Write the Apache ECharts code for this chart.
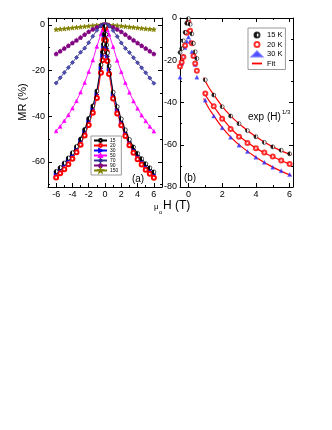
<!DOCTYPE html>
<html>
<head>
<meta charset="utf-8">
<script src="https://cdn.jsdelivr.net/npm/echarts@6/dist/echarts.min.js"></script>
<style>
html,body{margin:0;padding:0;background:#fff;}
#c{width:332px;height:430px;}
</style>
</head>
<body>
<div id="c"></div>
<script>
// ---------- Panel (a) data ----------
const fieldA = [-6,-5.5,-5,-4.5,-4,-3.5,-3,-2.5,-2,-1.5,-1,-0.5,-0.3,-0.2,-0.1,0,0.1,0.2,0.3,0.5,1,1.5,2,2.5,3,3.5,4,4.5,5,5.5,6];
const mr15a = [-64.2,-62.5,-60.5,-58.3,-56,-53.3,-50,-45.8,-41,-35.5,-29,-17.5,-12,-8.5,-4,-0.5,-4.2,-8.8,-12.3,-18,-29.5,-35.8,-41.2,-46,-50.2,-53.5,-56.3,-58.6,-60.8,-62.6,-64.4];
const mr20a = [-66.8,-65,-63.2,-61,-58.6,-55.8,-52.5,-48.5,-43.8,-38.5,-32,-21,-15.5,-11.5,-6.5,-1.5,-6.8,-11.8,-15.8,-21.5,-32.3,-38.8,-44,-48.7,-52.7,-56,-58.8,-61.2,-63.4,-65.2,-67];
const mr30a = [-65.2,-63.4,-61.4,-59.2,-57,-54.3,-51,-47,-42.3,-37,-30.5,-19,-13.5,-10,-5.5,-1,-5.8,-10.3,-13.8,-19.5,-30.8,-37.3,-42.5,-47.2,-51.2,-54.5,-57.2,-59.5,-61.6,-63.5,-65.4];
const mr50a = [-46.5,-44.5,-42,-39.5,-36.5,-33.3,-29.5,-25.3,-20.5,-15.5,-9.5,-4,-2.2,-1.4,-0.6,0,-0.6,-1.5,-2.3,-4.2,-9.6,-15.6,-20.6,-25.4,-29.6,-33.4,-36.6,-39.6,-42.1,-44.5,-46.6];
const mr70a = [-25.5,-23.2,-20.9,-18.7,-16.5,-14.3,-12,-10.2,-7.8,-5,-2.4,-0.6,-0.2,-0.1,0,0,0,-0.1,-0.2,-0.6,-2.5,-5.1,-7.9,-10.3,-12.1,-14.4,-16.6,-18.8,-21,-23.3,-25.6];
const mr90a = [-12.7,-11.5,-10.3,-9.1,-7.9,-6.7,-5.5,-4.2,-3,-1.9,-1,-0.3,-0.1,-0.05,0,0,0,-0.05,-0.1,-0.3,-1,-1.9,-3,-4.2,-5.5,-6.7,-7.9,-9.1,-10.3,-11.5,-12.7];
const mr150a = [-2,-1.85,-1.7,-1.5,-1.3,-1.1,-0.9,-0.7,-0.5,-0.3,-0.15,-0.05,-0.02,-0.01,0,0,0,-0.01,-0.02,-0.05,-0.15,-0.3,-0.5,-0.7,-0.9,-1.1,-1.3,-1.5,-1.7,-1.85,-2];
const legendA = ['15','20','30','50','70','90','150'];

// ---------- Panel (b) data ----------
const fieldB = [-0.5,-0.4,-0.3,-0.2,-0.1,0,0.1,0.2,0.3,0.4,0.5,1,1.5,2,2.5,3,3.5,4,4.5,5,5.5,6];
const mr15b = [-16.3,-14.5,-10.8,-6.8,-2.5,-0.3,-3,-7.5,-12,-16,-19.2,-29.3,-36.5,-42,-46.4,-50,-53.3,-56.2,-58.9,-61,-62.6,-64.3];
const mr20b = [-23,-21,-18.5,-13,-7,-2,-6,-12,-18,-21.5,-25,-35.7,-41.8,-47.7,-52.5,-56.2,-59.2,-61.6,-63.7,-65.6,-67.5,-69.1];
const mr30b = [-28,-21.5,-18,-14,-11,-9,-11,-16,-18,-22,-28,-38.9,-46.4,-52,-56.5,-60.2,-63.2,-65.9,-68.3,-70.7,-72.3,-74.1];
const fitField = [0.9,1.2,1.5,2,2.5,3,4,5,6.1];
const fit15 = [-28.2,-32.8,-36.3,-41.8,-46.3,-50,-56.2,-61,-64.8];
const fit20 = [-34.9,-38.9,-41.9,-47.4,-52.1,-55.9,-61.6,-65.7,-69.5];
const fit30 = [-38.1,-42.6,-46.2,-51.8,-56.3,-60,-65.9,-70.6,-74.6];
const legendB = ['15 K','20 K','30 K','Fit'];

// ---------- tick values ----------
const xMajorA = [-6,-4,-2,0,2,4,6];
const xMinorA = [-7,-5,-3,-1,1,3,5,7];
const yMajorA = [-60,-40,-20,0];
const yMinorA = [-70,-50,-30,-10];
const xMajorB = [0,2,4,6];
const xMinorB = [1,3,5];
const yMajorB = [-80,-60,-40,-20,0];
const yMinorB = [-70,-50,-30,-10];

const FONT = 'Liberation Sans, Arial, sans-serif';
const pair = (xs, ys) => xs.map((x, i) => [x, ys[i]]);

function axis(gridIndex, min, max, position, vals, len, showLine, showLabel) {
  return {
    type: 'value', gridIndex, min, max, position,
    axisLine: {show: showLine, onZero: false, lineStyle: {color: '#000', width: 1}},
    axisTick: {show: true, inside: true, length: len, customValues: vals, lineStyle: {color: '#000', width: 1}},
    axisLabel: {show: showLabel, customValues: vals, fontSize: 9, color: '#000', margin: 3, fontFamily: FONT},
    splitLine: {show: false}
  };
}

const xAxes = [
  axis(0, -7, 7, 'bottom', xMajorA, 4, true, true),
  axis(0, -7, 7, 'bottom', xMinorA, 2, false, false),
  axis(0, -7, 7, 'top', xMajorA, 4, true, false),
  axis(0, -7, 7, 'top', xMinorA, 2, false, false),
  axis(1, -0.5, 6.2, 'bottom', xMajorB, 4, true, true),
  axis(1, -0.5, 6.2, 'bottom', xMinorB, 2, false, false),
  axis(1, -0.5, 6.2, 'top', xMajorB, 4, true, false),
  axis(1, -0.5, 6.2, 'top', xMinorB, 2, false, false)
];
const yAxes = [
  axis(0, -71, 3, 'left', yMajorA, 4, true, true),
  axis(0, -71, 3, 'left', yMinorA, 2, false, false),
  axis(0, -71, 3, 'right', yMajorA, 4, true, false),
  axis(0, -71, 3, 'right', yMinorA, 2, false, false),
  axis(1, -80, 0, 'left', yMajorB, 4, true, true),
  axis(1, -80, 0, 'left', yMinorB, 2, false, false),
  axis(1, -80, 0, 'right', yMajorB, 4, true, false),
  axis(1, -80, 0, 'right', yMinorB, 2, false, false)
];

const halfFill = (c) => new echarts.graphic.LinearGradient(0, 0, 1, 0, [
  {offset: 0, color: c}, {offset: 0.5, color: c}, {offset: 0.5, color: '#fff'}, {offset: 1, color: '#fff'}
]);
const PENT = 'path://M0,-10L9.51,-3.09L5.88,8.09L-5.88,8.09L-9.51,-3.09Z';
const STAR = 'path://M0,-10L2.35,-3.24L9.51,-3.09L3.8,1.24L5.88,8.09L0,4L-5.88,8.09L-3.8,1.24L-9.51,-3.09L-2.35,-3.24Z';
const RTRI = 'path://M-8,-9L9,0L-8,9Z';
const LINEICON = 'path://M0,0L20,0L20,3.6L0,3.6Z';

function lineA(name, ys, color, symbol, size, fill, z) {
  return {
    type: 'line', name, xAxisIndex: 0, yAxisIndex: 0, data: pair(fieldA, ys),
    symbol, symbolSize: size, showAllSymbol: true, z,
    lineStyle: {color, width: 0.9},
    itemStyle: {color: fill, borderColor: color, borderWidth: 0.7}
  };
}

const fitStyle = {color: '#ff0000', width: 1.2};
const series = [
  lineA('150', mr150a, '#808000', STAR, 4.5, '#808000', 2),
  lineA('90', mr90a, '#800080', PENT, 4, '#800080', 3),
  lineA('70', mr70a, '#303090', 'diamond', 4, '#5050b0', 4),
  lineA('50', mr50a, '#ff00ff', 'triangle', 3.5, '#ff00ff', 5),
  lineA('30', mr30a, '#0000ff', RTRI, 4, '#0000ff', 6),
  lineA('20', mr20a, '#ff0000', 'emptyCircle', 4, '#ff0000', 7),
  lineA('15', mr15a, '#000000', 'circle', 4, halfFill('#000'), 8),
  {type: 'line', name: 'Fit', xAxisIndex: 4, yAxisIndex: 4, data: pair(fitField, fit15), smooth: true, symbol: 'none', color: '#ff0000', lineStyle: fitStyle, itemStyle: {color: '#ff0000'}, z: 3},
  {type: 'line', name: 'Fit', xAxisIndex: 4, yAxisIndex: 4, data: pair(fitField, fit20), smooth: true, symbol: 'none', color: '#ff0000', lineStyle: fitStyle, itemStyle: {color: '#ff0000'}, z: 3},
  {type: 'line', name: 'Fit', xAxisIndex: 4, yAxisIndex: 4, data: pair(fitField, fit30), smooth: true, symbol: 'none', color: '#ff0000', lineStyle: fitStyle, itemStyle: {color: '#ff0000'}, z: 3},
  {type: 'scatter', name: '30 K', xAxisIndex: 4, yAxisIndex: 4, data: pair(fieldB, mr30b), symbol: 'triangle', symbolSize: 4, itemStyle: {color: '#1a1aff', borderColor: '#6060ff', borderWidth: 0.5}, z: 4},
  {type: 'scatter', name: '20 K', xAxisIndex: 4, yAxisIndex: 4, data: pair(fieldB, mr20b), symbol: 'emptyCircle', symbolSize: 4, itemStyle: {color: '#ff0000', borderWidth: 0.7}, z: 5},
  {type: 'scatter', name: '15 K', xAxisIndex: 4, yAxisIndex: 4, data: pair(fieldB, mr15b), symbol: 'circle', symbolSize: 4, itemStyle: {color: halfFill('#000'), borderColor: '#000', borderWidth: 0.7}, z: 6}
];

const chart = echarts.init(document.getElementById('c'), null, {renderer: 'canvas'});
chart.setOption({
  animation: false,
  backgroundColor: '#fff',
  textStyle: {fontFamily: FONT},
  grid: [
    {left: 48, top: 18, width: 114, height: 169},
    {left: 180, top: 18, width: 113, height: 169}
  ],
  xAxis: xAxes,
  yAxis: yAxes,
  legend: [
    {
      data: legendA, orient: 'vertical', left: 91, top: 136,
      itemWidth: 13, itemHeight: 3.5, itemGap: 0, padding: [2, 3, 2, 2],
      borderColor: '#999', borderWidth: 1,
      textStyle: {fontSize: 5, lineHeight: 5, color: '#000', fontFamily: FONT, padding: [0, 0, 0, -2]}
    },
    {
      data: [{name: '15 K'}, {name: '20 K'}, {name: '30 K'},
             {name: 'Fit', icon: LINEICON, itemStyle: {color: '#ff0000', borderColor: '#ff0000', borderWidth: 0}}],
      orient: 'vertical', left: 248, top: 28,
      itemWidth: 10, itemHeight: 5, itemGap: 1.5, padding: [3, 3, 2, 3],
      borderColor: '#999', borderWidth: 1,
      textStyle: {fontSize: 7.5, lineHeight: 7.5, color: '#000', fontFamily: FONT}
    }
  ],
  graphic: [
    {type: 'text', x: 23, y: 102, rotation: Math.PI / 2, style: {text: 'MR (%)', fontSize: 11, fontFamily: FONT, fill: '#000', align: 'center', verticalAlign: 'middle'}},
    {type: 'text', x: 138, y: 179, style: {text: '(a)', fontSize: 10, fontFamily: FONT, fill: '#000', align: 'center', verticalAlign: 'middle'}},
    {type: 'text', x: 190, y: 178, style: {text: '(b)', fontSize: 10, fontFamily: FONT, fill: '#000', align: 'center', verticalAlign: 'middle'}},
    {type: 'text', x: 248, y: 117, style: {text: 'exp (H)', fontSize: 10, fontFamily: FONT, fill: '#000', align: 'left', verticalAlign: 'middle'}},
    {type: 'text', x: 282, y: 112, style: {text: '1/3', fontSize: 6, fontFamily: FONT, fill: '#000', align: 'left', verticalAlign: 'middle'}},
    {type: 'text', x: 154, y: 207, style: {text: 'μ', fontSize: 8, fontFamily: FONT, fill: '#000', align: 'left', verticalAlign: 'middle'}},
    {type: 'text', x: 159, y: 212, style: {text: 'o', fontSize: 6, fontFamily: FONT, fill: '#000', align: 'left', verticalAlign: 'middle'}},
    {type: 'text', x: 163, y: 206, style: {text: 'H (T)', fontSize: 12, fontFamily: FONT, fill: '#000', align: 'left', verticalAlign: 'middle'}}
  ],
  series
});
</script>
</body>
</html>
